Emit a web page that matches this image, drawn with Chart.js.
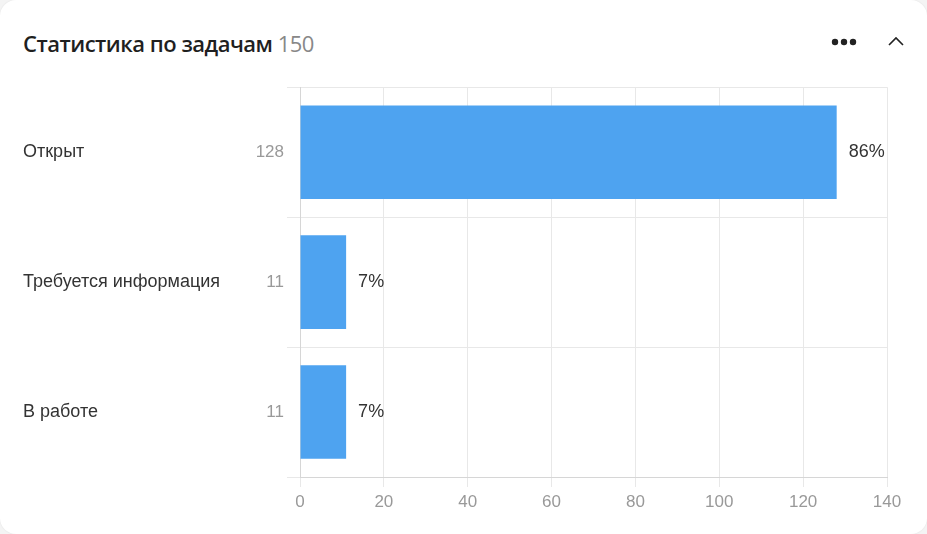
<!DOCTYPE html>
<html lang="ru">
<head>
<meta charset="utf-8">
<script src="https://cdn.jsdelivr.net/npm/chart.js@4.4.1/dist/chart.umd.min.js"></script>
<style>
    html, body { margin: 0; padding: 0; background: #f4f4f4; }
    .card {
        position: relative;
        width: 927px;
        height: 534px;
        background: #fff;
        border-radius: 16px;
        box-shadow: 0 0 2px rgba(0, 0, 0, 0.08);
        overflow: hidden;
    }
    .title {
        position: absolute;
        left: 23px;
        top: 28px;
        font-family: "Open Sans", sans-serif;
        font-size: 22px;
        font-weight: 600;
        letter-spacing: -0.5px;
        color: #1f1f1f;
    }
    .title span { color: #888; font-weight: 500; }
    .dots { position: absolute; left: 831px; top: 37px; }
    .chevron { position: absolute; left: 887px; top: 34px; }
    .wrap { position: absolute; left: 0; top: 74px; width: 927px; height: 460px; }
</style>
</head>
<body>
<div class="card">
    <div class="title">Статистика по задачам <span>150</span></div>
    <svg class="dots" width="26" height="10">
        <circle cx="4" cy="5" r="3.2" fill="#222"/>
        <circle cx="13" cy="5" r="3.2" fill="#222"/>
        <circle cx="22" cy="5" r="3.2" fill="#222"/>
    </svg>
    <svg class="chevron" width="18" height="14">
        <polyline points="2,11 9,4 16,11" fill="none" stroke="#222" stroke-width="1.6"/>
    </svg>
    <div class="wrap"><canvas id="chart"></canvas></div>
</div>
<script>
// Данные графика
const categories = ['Открыт', 'Требуется информация', 'В работе'];
const counts = [128, 11, 11];
const percents = [86, 7, 7];
const xTicks = [0, 20, 40, 60, 80, 100, 120, 140];

const labelFont = '18px "Liberation Sans", Arial, sans-serif';

// Названия категорий слева
const categoryNames = {
    id: 'categoryNames',
    afterDraw(chart) {
        const ctx = chart.ctx;
        const y = chart.scales.y;
        ctx.save();
        ctx.font = labelFont;
        ctx.fillStyle = '#333';
        ctx.textAlign = 'left';
        ctx.textBaseline = 'middle';
        categories.forEach((name, i) => {
            ctx.fillText(name, 23, y.getPixelForValue(i));
        });
        ctx.restore();
    }
};

// Проценты справа от столбцов
const percentLabels = {
    id: 'percentLabels',
    afterDatasetsDraw(chart) {
        const ctx = chart.ctx;
        const meta = chart.getDatasetMeta(0);
        ctx.save();
        ctx.font = labelFont;
        ctx.fillStyle = '#333';
        ctx.textAlign = 'left';
        ctx.textBaseline = 'middle';
        meta.data.forEach((bar, i) => {
            ctx.fillText(percents[i] + '%', bar.x + 12, bar.y);
        });
        ctx.restore();
    }
};

new Chart(document.getElementById('chart'), {
    type: 'bar',
    data: {
        labels: categories,
        datasets: [{
            data: counts,
            backgroundColor: '#4ea3f0',
            barPercentage: 0.72,
            categoryPercentage: 1
        }]
    },
    options: {
        indexAxis: 'y',
        responsive: true,
        maintainAspectRatio: false,
        animation: false,
        layout: { padding: { top: 2, right: 40, left: 0, bottom: 0 } },
        plugins: {
            legend: { display: false },
            tooltip: { enabled: false }
        },
        scales: {
            x: {
                min: 0,
                max: 140,
                afterBuildTicks: (scale) => { scale.ticks = xTicks.map(v => ({ value: v })); },
                afterFit: (scale) => { scale.height = 57; },
                grid: { color: '#e8e8e8', tickLength: 10 },
                border: { color: '#d6d6d6' },
                ticks: {
                    color: '#999',
                    padding: 5,
                    font: { family: '"Liberation Sans", Arial, sans-serif', size: 17 }
                }
            },
            y: {
                afterFit: (scale) => { scale.width = 300; },
                grid: { color: '#e8e8e8', tickLength: 13, offset: true },
                border: { color: '#d6d6d6' },
                ticks: {
                    color: '#999',
                    padding: 3,
                    font: { family: '"Liberation Sans", Arial, sans-serif', size: 17 },
                    callback: (value, i) => counts[i]
                }
            }
        }
    },
    plugins: [categoryNames, percentLabels]
});
</script>
</body>
</html>
